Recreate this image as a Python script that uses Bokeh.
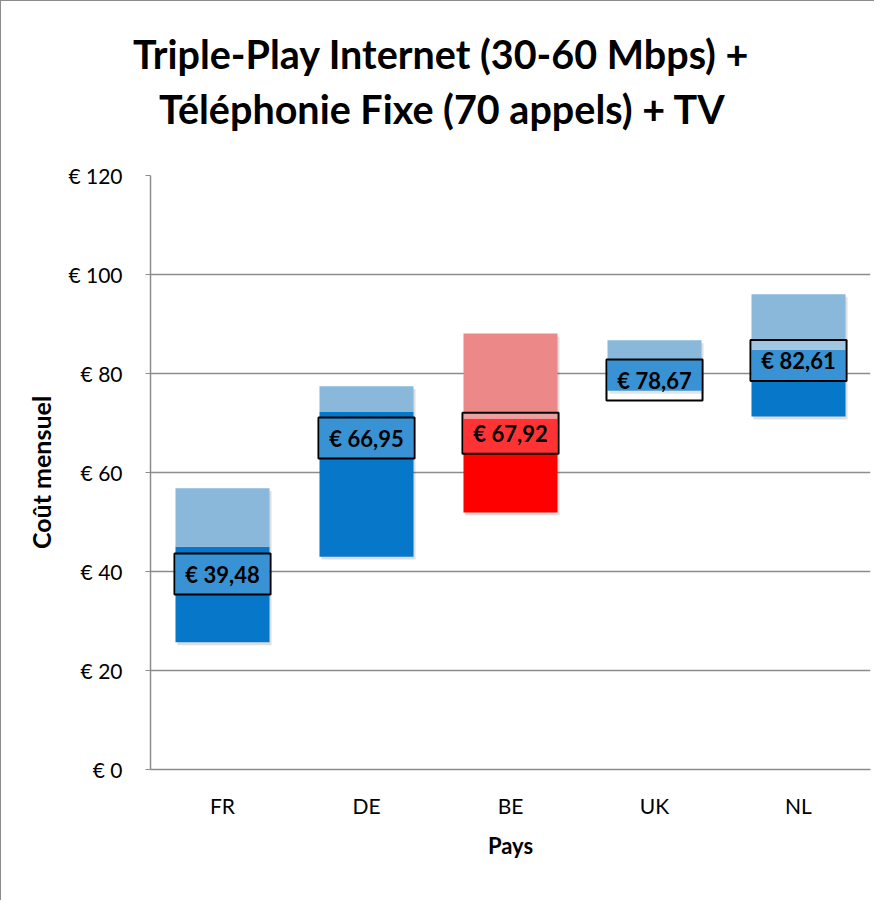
from bokeh.plotting import figure
from bokeh.layouts import column
from bokeh.models import ColumnDataSource, FactorRange, Range1d, FixedTicker, Title
from bokeh.transform import dodge
from bokeh.embed import file_html
from bokeh.resources import INLINE
from bokeh.core.properties import value

# ---- data ----
countries = ["FR", "DE", "BE", "UK", "NL"]
price_min = [25.7, 43.0, 51.9, 76.5, 71.3]
price_mid = [45.0, 72.2, 70.9, 83.0, 84.8]
price_max = [56.8, 77.4, 88.1, 86.7, 96.0]
price_avg = [39.48, 66.95, 67.92, 78.67, 82.61]
dark_colors = ["#0777c9", "#0777c9", "#ff0000", "#0777c9", "#0777c9"]
light_colors = ["#8ab8da", "#8ab8da", "#ec8888", "#8ab8da", "#8ab8da"]
y_ticks = [0, 20, 40, 60, 80, 100, 120]
title_lines = ["Triple-Play Internet (30-60 Mbps) +", "Téléphonie Fixe (70 appels) + TV"]

labels = ["€ " + f"{v:.2f}".replace(".", ",") for v in price_avg]

src = ColumnDataSource(dict(
    country=countries, pmin=price_min, pmid=price_mid, pmax=price_max,
    avg=price_avg, dark=dark_colors, light=light_colors, label=labels,
))

FONT = "Lato"
W = 873
TOP_H = 140
MAIN_H = 759

# ---- title strip ----
t = figure(width=W, height=TOP_H, x_range=Range1d(0, 1), y_range=Range1d(0, 1),
           output_backend="svg", toolbar_location=None,
           x_axis_location=None, y_axis_location=None,
           min_border_left=149, min_border_right=4,
           min_border_top=134, min_border_bottom=0)
t.grid.visible = False
t.outline_line_color = None
# line closest to the frame first (line 2), then line 1 above it
for text, off in [(title_lines[1], 8.5), (title_lines[0], -17.5)]:
    t.add_layout(Title(text=text, align="left", offset=off, vertical_align="middle",
                       standoff=6, text_font=FONT, text_font_style="bold",
                       text_font_size="39.5px", text_color="black"), "above")

# ---- main chart ----
p = figure(
    width=W, height=MAIN_H,
    x_range=FactorRange(*countries, range_padding=0),
    y_range=Range1d(0, 120),
    output_backend="svg", toolbar_location=None,
    min_border_left=149, min_border_right=4,
    min_border_top=34, min_border_bottom=131,
)
p.outline_line_color = None

# shadow
p.vbar(x=dodge("country", 0.014, range=p.x_range), bottom=dodge("pmin", -0.6),
       top=dodge("pmax", -0.6), width=0.653, source=src,
       fill_color="black", fill_alpha=0.13, line_color=None)
# dark part
p.vbar(x="country", bottom="pmin", top="pmid", width=0.653, source=src,
       fill_color="dark", line_color=None)
# light part
p.vbar(x="country", bottom="pmid", top="pmax", width=0.653, source=src,
       fill_color="light", line_color=None)
# label boxes
p.rect(x="country", y="avg", width=0.667, height=41, height_units="screen",
       source=src, fill_color="white", fill_alpha=0.2,
       line_color="black", line_width=2)
p.text(x="country", y="avg", text="label", source=src,
       text_align="center", text_baseline="middle",
       text_font=value(FONT), text_font_style="bold",
       text_font_size="22px", text_color="black")

# axes
p.yaxis.ticker = FixedTicker(ticks=y_ticks)
p.yaxis.major_label_overrides = {tk: f"€ {tk}" for tk in y_ticks}
p.yaxis.major_tick_out = 5
p.yaxis.major_tick_in = 0
p.yaxis.minor_tick_line_color = None
p.yaxis.major_tick_line_color = "#8c8c8c"
p.yaxis.axis_line_color = "#8c8c8c"
p.yaxis.axis_line_width = 1.5
p.yaxis.major_label_standoff = 23
p.yaxis.major_label_text_font = FONT
p.yaxis.major_label_text_font_size = "21px"
p.yaxis.major_label_text_color = "black"
p.yaxis.axis_label = "Coût mensuel"
p.yaxis.axis_label_text_font = FONT
p.yaxis.axis_label_text_font_style = "bold"
p.yaxis.axis_label_text_font_size = "25px"
p.yaxis.axis_label_text_color = "black"
p.yaxis.axis_label_standoff = 9

p.xaxis.axis_line_color = "#8c8c8c"
p.xaxis.axis_line_width = 1.5
p.xaxis.major_tick_out = 0
p.xaxis.major_tick_in = 0
p.xaxis.major_label_standoff = 23
p.xaxis.major_label_text_font = FONT
p.xaxis.major_label_text_font_size = "21px"
p.xaxis.major_label_text_color = "black"
p.xaxis.axis_label = "Pays"
p.xaxis.axis_label_text_font = FONT
p.xaxis.axis_label_text_font_style = "bold"
p.xaxis.axis_label_text_font_size = "22px"
p.xaxis.axis_label_text_color = "black"
p.xaxis.axis_label_standoff = 11

p.xgrid.grid_line_color = None
p.ygrid.ticker = FixedTicker(ticks=y_ticks)
p.ygrid.grid_line_color = "#8c8c8c"
p.ygrid.grid_line_width = 1.5

layout = column(t, p, spacing=0)
layout.styles = {"border-left": "1.5px solid #8c8c8c", "border-top": "1.5px solid #8c8c8c"}

open("out.html", "w").write(file_html(layout, INLINE))
